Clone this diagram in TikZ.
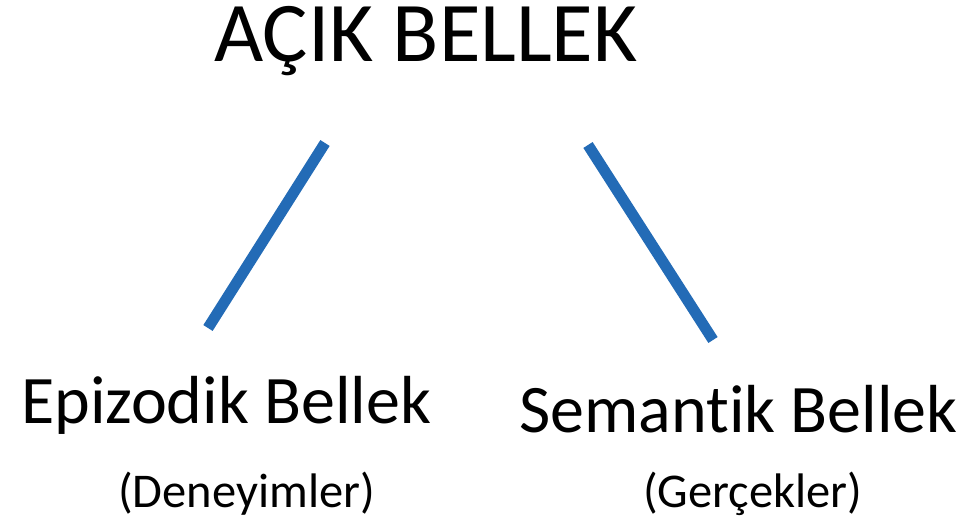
\documentclass[tikz,border=0pt]{standalone}
\usepackage{fontspec}
\setmainfont[Ligatures=NoCommon]{Carlito}
\definecolor{linkblue}{RGB}{35,107,182}
\begin{document}
\begin{tikzpicture}[x=1pt,y=-1pt,
  lbl/.style={inner sep=0pt,anchor=base west,text=black},
  title/.style={lbl,font=\fontsize{85}{90}\selectfont},
  big/.style={lbl,font=\fontsize{68}{72}\selectfont},
  small/.style={lbl,font=\fontsize{48.5}{52}\selectfont},
  link/.style={draw=linkblue,line width=11pt}]
\useasboundingbox (0,0) rectangle (966,518);
\node[title] (t) at (214,62) {AÇIK BELLEK};
\node[big] (e) at (21,423) {Epizodik Bellek};
\node[big] (s) at (519,432) {Semantik Bellek};
\node[small] (d) at (118,507) {(Deneyimler)};
\node[small] (g) at (643,507) {(Gerçekler)};
\coordinate (l1) at (325,143);
\coordinate (l2) at (208,328);
\coordinate (r1) at (588,145);
\coordinate (r2) at (713,340);
\draw[link] (l1) -- (l2);
\draw[link] (r1) -- (r2);
\end{tikzpicture}
\end{document}
